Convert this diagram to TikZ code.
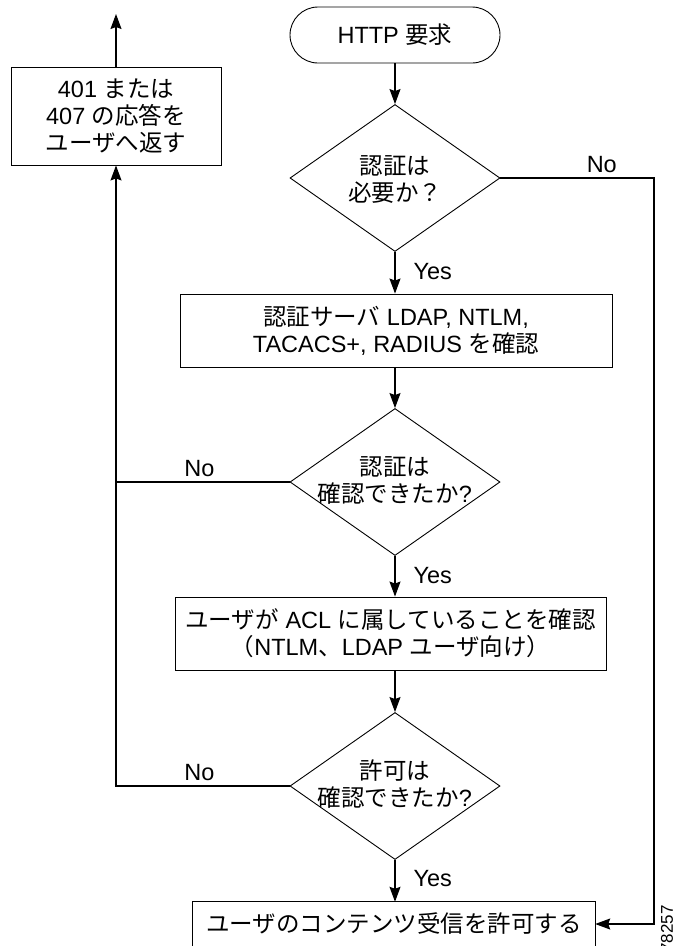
\documentclass[tikz,border=0pt]{standalone}
\usepackage{fontspec}
\setmainfont{Liberation Sans}
\newfontfamily\jpf{Noto Sans CJK JP}
\newcommand\J[1]{{\jpf #1}}
\usetikzlibrary{shapes.geometric,arrows.meta}
\begin{document}
\begin{tikzpicture}[x=1pt,y=-1pt,
  font=\fontsize{23.5}{27}\selectfont,
  box/.style={draw, line width=0.9pt, inner sep=0pt, align=center},
  decision/.style={draw, diamond, line width=0.9pt, inner sep=0pt, minimum width=210pt, minimum height=147pt},
  term/.style={draw, line width=0.9pt, rounded corners=28pt, minimum width=210pt, minimum height=56pt, inner sep=0pt},
  conn/.style={line width=1.2pt, -{Stealth[length=15pt,width=11pt,inset=2pt]}},
  plain/.style={line width=1.2pt},
  lbl/.style={inner sep=0pt}]
\clip (0,0) rectangle (678,946);

% nodes
\node[term] (start) at (395,35) {HTTP \J{要求}};
\node[decision] (d1) at (395,178) {};
\node[lbl, align=center] (d1t) at (395,179) {\J{認証は}\\\J{必要か？}};
\node[box, minimum width=432pt, minimum height=73pt] (b2) at (396,330.5) {\J{認証サーバ} LDAP, NTLM,\\TACACS+, RADIUS \J{を確認}};
\node[decision] (d2) at (395,482) {};
\node[lbl, align=center] (d2t) at (395,480) {\J{認証は}\\\J{確認できたか}?};
\node[box, minimum width=431pt, minimum height=73pt] (b3) at (390.5,633.5) {\J{ユーザが} ACL \J{に属していることを確認}\\\J{（}NTLM\J{、}LDAP \J{ユーザ向け）}};
\node[decision] (d3) at (395,786) {};
\node[lbl, align=center] (d3t) at (395,784) {\J{許可は}\\\J{確認できたか}?};
\node[box, minimum width=210pt, minimum height=98pt] (b1) at (116,116) {401 \J{または}\\407 \J{の応答を}\\\J{ユーザへ返す}};
\node[inner sep=0pt, minimum width=402pt, minimum height=44pt] (fin) at (394,924) {\J{ユーザのコンテンツ受信を許可する}};
\draw[line width=0.9pt] (fin.south west) -- (fin.north west) -- (fin.north east) -- (fin.south east);

\coordinate (nr) at (654,178);
\coordinate (nl) at (116,786);
\coordinate (up) at (116,14);

% connectors
\draw[conn] (start) -- (d1.north);
\draw[conn] (d1.south) -- node[lbl, anchor=west, xshift=18pt, yshift=1pt] {Yes} (d1.south |- b2.north);
\draw[conn] (d2.north |- b2.south) -- (d2.north);
\draw[conn] (d2.south) -- node[lbl, anchor=west, xshift=18pt, yshift=1pt] {Yes} (d2.south |- b3.north);
\draw[conn] (d3.north |- b3.south) -- (d3.north);
\draw[conn] (d3.south) -- node[lbl, anchor=west, xshift=18pt, yshift=2pt] {Yes} (d3.south |- fin.north);
\draw[conn] (d1.east) -- node[lbl, pos=0.66, anchor=south, yshift=5pt] {No} (nr) |- (fin.east);
\draw[plain] (d2.west) -- node[lbl, pos=0.52, anchor=south, yshift=5pt] {No} (d2.west -| nl);
\draw[conn] (d3.west) -- node[lbl, pos=0.52, anchor=south, yshift=5pt] {No} (nl) -- (b1.south);
\draw[conn] (b1.north) -- (up);

\node[rotate=90, anchor=east, inner sep=0pt, font=\fontsize{17}{17}\selectfont] (fig) at (667,905) {78257};
\end{tikzpicture}
\end{document}
